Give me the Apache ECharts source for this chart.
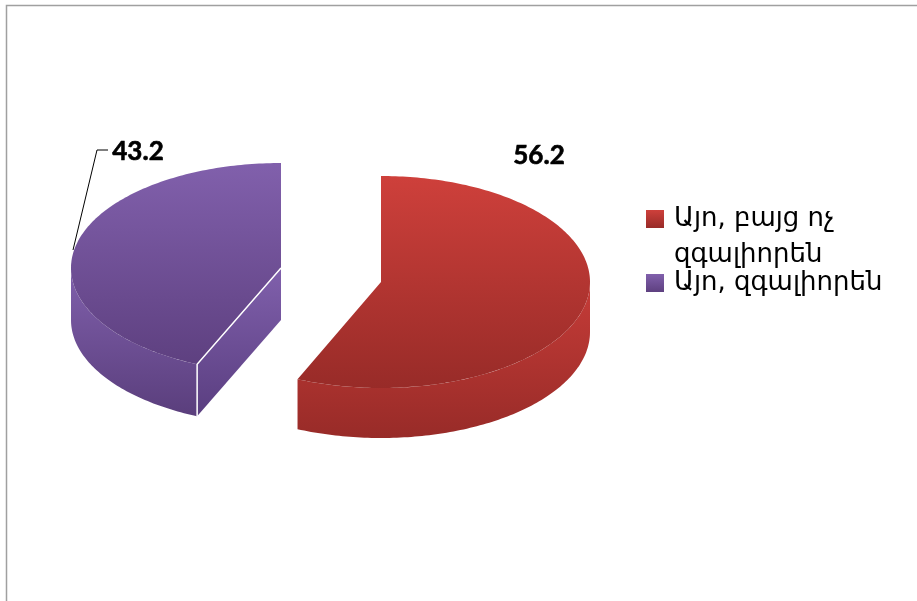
<!DOCTYPE html>
<html>
<head>
<meta charset="utf-8">
<style>html,body{margin:0;padding:0;background:#fff}#chart{width:917px;height:601px}</style>
<script src="https://cdn.jsdelivr.net/npm/echarts@6/dist/echarts.min.js"></script>
</head>
<body>
<div id="chart"></div>
<script>
// Survey answers and their shares
const categories = ['Այո, բայց ոչ զգալիորեն', 'Այո, զգալիորեն'];
const legendLabels = ['\nԱյո, բայց ոչ\nզգալիորեն', 'Այո, զգալիորեն'];
const shares = [56.2, 43.2];

const total = shares.reduce((a, b) => a + b, 0);
const G = echarts.graphic.LinearGradient;
const vGrad = (top, bottom) => new G(0, 0, 0, 1, [{offset: 0, color: top}, {offset: 1, color: bottom}]);

// Exploded-slice layout of the tilted disc, one entry per category
const slices = [
  {cx: 381, cy: 282, rx: 209, ry: 106, depth: 50,
   top: ['#CE403B', '#982B28'], wall: ['#C63C38', '#982B28'],
   labelPos: [539, 156]},
  {cx: 281, cy: 268, rx: 210, ry: 105, depth: 52,
   top: ['#8160AC', '#5E4080'], wall: ['#8060AC', '#5A3E7C'],
   labelPos: [138, 152], leader: [[73, 250], [97, 150], [108, 150]]}
];

function rimPoint(s, deg, dy) {
  const a = deg * Math.PI / 180;
  return [s.cx + s.rx * Math.sin(a), s.cy - s.ry * Math.cos(a) + (dy || 0)];
}
function arc(s, from, to, dy) {
  const pts = [];
  const n = Math.max(2, Math.ceil(Math.abs(to - from)));
  for (let i = 0; i <= n; i++) pts.push(rimPoint(s, from + (to - from) * i / n, dy));
  return pts;
}

function sliceRenderer(index) {
  return function (params, api) {
    const value = api.value(0);
    let start = 0;
    for (let i = 0; i < index; i++) start += shares[i] / total * 360;
    const end = start + value / total * 360;
    const s = slices[index];
    const children = [];

    // Front-facing part of the outer wall
    const wFrom = Math.max(start, 90), wTo = Math.min(end, 270);
    if (wTo > wFrom) {
      const upper = arc(s, wFrom, wTo, 0);
      const lower = arc(s, wTo, wFrom, s.depth);
      children.push({type: 'polygon', shape: {points: upper.concat(lower)},
        style: {fill: vGrad(s.wall[0], s.wall[1])}});
    }

    // Cut face, visible on the slice whose start edge turns toward the viewer
    if (index === 1) {
      const p = rimPoint(s, start);
      children.push({type: 'polygon',
        shape: {points: [[s.cx, s.cy], p, [p[0], p[1] + s.depth], [s.cx, s.cy + s.depth]]},
        style: {fill: vGrad('#8060AC', '#5A3E80')}});
    }

    // Top surface
    const topPts = [[s.cx, s.cy]].concat(arc(s, start, end, 0));
    children.push({type: 'polygon', shape: {points: topPts},
      style: {fill: vGrad(s.top[0], s.top[1])}});

    // White seam between top, cut face and wall
    if (index === 1) {
      const p = rimPoint(s, start);
      children.push({type: 'polyline',
        shape: {points: [[s.cx, s.cy], p, [p[0], p[1] + s.depth]]},
        style: {stroke: '#fff', lineWidth: 1.5, fill: 'none'}});
    }

    if (s.leader) {
      children.push({type: 'polyline', shape: {points: s.leader},
        style: {stroke: '#000', lineWidth: 1, fill: 'none'}});
    }

    children.push({type: 'text', style: {
      x: s.labelPos[0], y: s.labelPos[1], text: value.toFixed(1),
      fill: '#000', stroke: '#000', lineWidth: 0.6,
      font: 'bold 26px Lato, Carlito, sans-serif',
      align: 'center', verticalAlign: 'middle'}});

    return {type: 'group', children};
  };
}

const chart = echarts.init(document.getElementById('chart'), null, {renderer: 'canvas'});
chart.setOption({
  animation: false,
  backgroundColor: '#fff',
  legend: {
    orient: 'vertical', left: 641, top: 160,
    itemWidth: 18, itemHeight: 18, itemGap: -8,
    icon: 'rect', selectedMode: false,
    data: categories.map((name, i) => ({name, itemStyle: {color: vGrad(slices[i].top[0], slices[i].top[1])}})),
    formatter: name => legendLabels[categories.indexOf(name)],
    textStyle: {fontFamily: 'DejaVu Sans', fontSize: 26, lineHeight: 36, color: '#000', padding: [0, 0, 0, 5]}
  },
  graphic: [{type: 'polyline', silent: true,
    shape: {points: [[6.5, 601], [6.5, 5.5], [917, 5.5]]},
    style: {stroke: '#a0a0a0', lineWidth: 1.5, fill: 'none'}}],
  series: categories.map((name, i) => ({
    type: 'custom', name, coordinateSystem: 'none',
    itemStyle: {color: slices[i].top[0]},
    renderItem: sliceRenderer(i),
    data: [[shares[i]]]
  }))
});
</script>
</body>
</html>
